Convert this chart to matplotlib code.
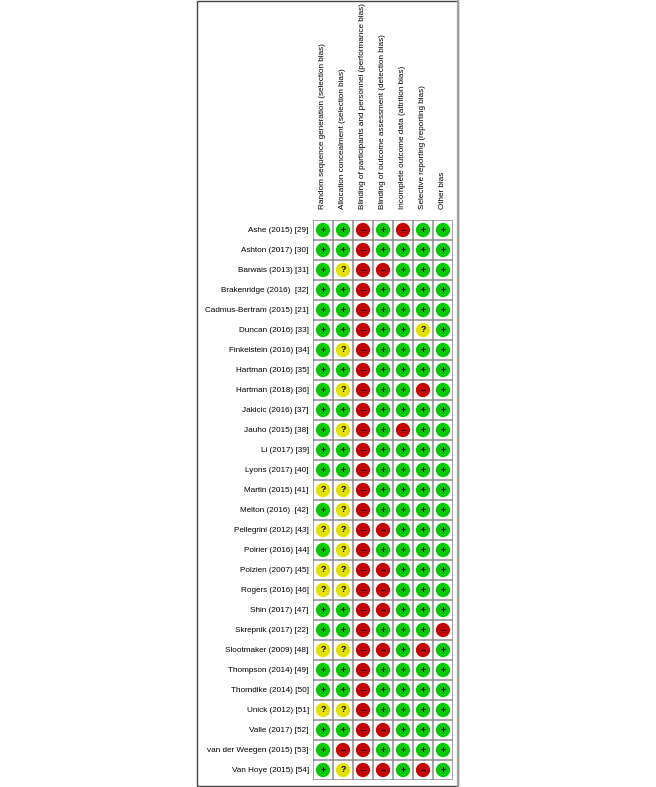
import matplotlib
matplotlib.use('Agg')
import matplotlib.pyplot as plt
from matplotlib.patches import Rectangle

plt.rcParams['font.family'] = ['Liberation Sans', 'DejaVu Sans']

DOMAINS = ['Random sequence generation (selection bias)',
           'Allocation concealment (selection bias)',
           'Blinding of participants and personnel (performance bias)',
           'Blinding of outcome assessment (detection bias)',
           'Incomplete outcome data (attrition bias)',
           'Selective reporting (reporting bias)',
           'Other bias']

STUDIES = ['Ashe (2015) [29]', 'Ashton (2017) [30]', 'Barwais (2013) [31]',
           'Brakenridge (2016)  [32]', 'Cadmus-Bertram (2015) [21]',
           'Duncan (2016) [33]', 'Finkelstein (2016) [34]', 'Hartman (2016) [35]',
           'Hartman (2018) [36]', 'Jakicic (2016) [37]', 'Jauho (2015) [38]',
           'Li (2017) [39]', 'Lyons (2017) [40]', 'Martin (2015) [41]',
           'Melton (2016)  [42]', 'Pellegrini (2012) [43]', 'Poirier (2016) [44]',
           'Polzien (2007) [45]', 'Rogers (2016) [46]', 'Shin (2017) [47]',
           'Skrepnik (2017) [22]', 'Slootmaker (2009) [48]', 'Thompson (2014) [49]',
           'Thorndike (2014) [50]', 'Unick (2012) [51]', 'Valle (2017) [52]',
           'van der Weegen (2015) [53]', 'Van Hoye (2015) [54]']

# + low risk, - high risk, ? unclear; one character per domain
JUDGEMENTS = ['++-+-++', '++-++++', '+?--+++', '++-++++', '++-++++',
              '++-++?+', '+?-++++', '++-++++', '+?-++-+', '++-++++',
              '+?-+-++', '++-++++', '++-++++', '??-++++', '+?-++++',
              '??--+++', '+?-++++', '??--+++', '??--+++', '++--+++',
              '++-+++-', '??--+-+', '++-++++', '++-++++', '??-++++',
              '++--+++', '+--++++', '+?--+-+']

COLORS = {'+': '#00c800', '-': '#c40000', '?': '#e4e000'}
GLYPH = {'+': '+', '-': '\u2212', '?': '?'}

W, H, DPI = 656, 787, 100
fig = plt.figure(figsize=(W / DPI, H / DPI), dpi=DPI)
fig.patch.set_facecolor('white')

# outer frame (right edge drawn lighter, like a shadow)
fig.patches.append(Rectangle((197 / W, 1 - 786 / H), 261 / W, 785 / H,
                             transform=fig.transFigure, fill=False,
                             edgecolor='#444444', linewidth=1.0))
fig.add_artist(plt.Line2D([458 / W, 458 / W], [1 - 786 / H, 1 - 1 / H],
                          transform=fig.transFigure, color='#a0a0a0', linewidth=1.6))

ax = fig.add_axes([313 / W, 1 - 780 / H, 140 / W, 560 / H])
ncol, nrow = len(DOMAINS), len(STUDIES)
ax.set_xlim(0, ncol)
ax.set_ylim(nrow, 0)

ax.vlines(range(ncol + 1), 0, nrow, color='#8c8c8c', linewidth=1.1)
ax.hlines(range(nrow + 1), 0, ncol, color='#8c8c8c', linewidth=1.1)

for r, row in enumerate(JUDGEMENTS):
    for c, j in enumerate(row):
        ax.scatter(c + 0.5, r + 0.5, s=105, color=COLORS[j], edgecolors='none', zorder=3)
        ax.text(c + 0.5, r + 0.5, GLYPH[j], ha='center', va='center',
                fontsize=6.2, fontweight='bold', color='#000000', zorder=5)

ax.set_yticks([i + 0.5 for i in range(nrow)])
ax.set_yticklabels(STUDIES, fontsize=5.9)
ax.xaxis.tick_top()
ax.set_xticks([i + 0.5 for i in range(ncol)])
ax.set_xticklabels(DOMAINS, rotation=90, fontsize=5.9, va='bottom', ha='center')
ax.tick_params(length=0, pad=3)
ax.tick_params(axis='x', pad=8)
for s in ax.spines.values():
    s.set_visible(False)

fig.savefig('out.png', dpi=DPI)
